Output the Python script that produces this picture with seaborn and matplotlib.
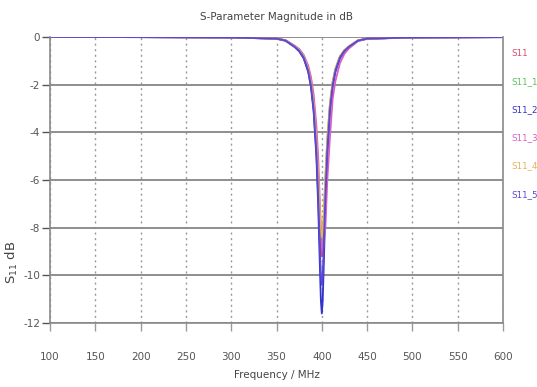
import matplotlib
matplotlib.use("Agg")
import matplotlib.pyplot as plt
import seaborn as sns
import pandas as pd

freq = [100, 200, 300, 350, 360, 370, 375, 380, 385, 388, 391, 394, 396, 398, 399,
        400, 401, 402, 404, 406, 409, 412, 415, 420, 425, 430, 440, 450, 500, 600]

s11   = [0.0, -0.005, -0.02, -0.07, -0.14, -0.40, -0.56, -0.84, -1.37, -1.94, -2.89, -4.52, -6.17, -8.12, -8.90,
         -9.20, -8.90, -8.12, -6.17, -4.52, -2.89, -1.94, -1.37, -0.84, -0.56, -0.40, -0.14, -0.07, -0.02, -0.005]
s11_1 = [0.0, -0.005, -0.02, -0.07, -0.14, -0.39, -0.55, -0.82, -1.34, -1.89, -2.81, -4.36, -5.90, -7.67, -8.33,
         -8.60, -8.33, -7.67, -5.90, -4.36, -2.81, -1.89, -1.34, -0.82, -0.55, -0.39, -0.14, -0.07, -0.02, -0.005]
s11_2 = [0.0, -0.005, -0.02, -0.07, -0.16, -0.42, -0.60, -0.90, -1.47, -2.09, -3.14, -5.01, -7.05, -9.79, -11.07,
         -11.60, -11.07, -9.79, -7.05, -5.01, -3.14, -2.09, -1.47, -0.90, -0.60, -0.42, -0.16, -0.07, -0.02, -0.005]
s11_3 = [0.0, -0.005, -0.02, -0.06, -0.13, -0.36, -0.50, -0.75, -1.20, -1.66, -2.40, -3.70, -5.00, -7.10, -7.97,
         -8.71, -9.00, -8.71, -7.97, -6.08, -4.20, -2.60, -1.85, -1.10, -0.70, -0.48, -0.17, -0.08, -0.02, -0.005]
s11_4 = [0.0, -0.005, -0.02, -0.07, -0.14, -0.39, -0.55, -0.81, -1.33, -1.88, -2.78, -4.30, -5.81, -7.51, -8.15,
         -8.40, -8.15, -7.51, -5.81, -4.30, -2.78, -1.88, -1.33, -0.81, -0.55, -0.39, -0.14, -0.07, -0.02, -0.005]
s11_5 = [0.0, -0.005, -0.02, -0.07, -0.15, -0.41, -0.58, -0.86, -1.42, -2.02, -3.03, -4.79, -6.64, -8.99, -9.99,
         -10.40, -9.99, -8.99, -6.64, -4.79, -3.03, -2.02, -1.42, -0.86, -0.58, -0.41, -0.15, -0.07, -0.02, -0.005]

series_names = ["S11", "S11_1", "S11_2", "S11_3", "S11_4", "S11_5"]
series_values = [s11, s11_1, s11_2, s11_3, s11_4, s11_5]
colors = ["#d94a6e", "#5cc25c", "#3232cc", "#d860c4", "#e2b45a", "#5a48d4"]

x_ticks = [100, 150, 200, 250, 300, 350, 400, 450, 500, 550, 600]
y_ticks = [0, -2, -4, -6, -8, -10, -12]

rows = []
for name, vals in zip(series_names, series_values):
    for f, v in zip(freq, vals):
        rows.append({"Frequency": f, "S11": v, "Series": name})
df = pd.DataFrame(rows)

sns.set_theme(style="white")
plt.rcParams["font.family"] = ["DejaVu Sans"]

fig = plt.figure(figsize=(5.37, 3.87), dpi=100)
ax = fig.add_axes([50/537, 1-323/387, 453/537, 286/387])

sns.lineplot(data=df, x="Frequency", y="S11", hue="Series", palette=colors,
             hue_order=series_names, linewidth=1.3, ax=ax, legend=True)

ax.set_xlim(100, 600)
ax.set_ylim(-12, 0)
ax.set_xticks(x_ticks)
ax.set_yticks(y_ticks)
ax.set_xticklabels([str(t) for t in x_ticks])
ax.set_yticklabels([str(t) for t in y_ticks])

ax.grid(axis="y", color="#8e8e8e", linewidth=1.4, linestyle="-")
ax.grid(axis="x", color="#9a9a9a", linewidth=1.0, linestyle=(0, (1.5, 2.5)))
ax.set_axisbelow(True)

for side in ["left", "bottom", "right"]:
    ax.spines[side].set_color("#8a8a8a")
    ax.spines[side].set_linewidth(1.2)
ax.spines["top"].set_visible(False)

ax.tick_params(axis="x", bottom=True, length=6, width=1, color="#9a9a9a", pad=15, labelsize=7.5, labelcolor="#555555")
ax.tick_params(axis="y", left=True, length=6, width=1, color="#555555", pad=1, labelsize=7.5, labelcolor="#555555")

ax.set_title("S-Parameter Magnitude in dB", fontsize=7.5, color="#444444", pad=12)
ax.set_xlabel("Frequency / MHz", fontsize=7.5, color="#444444", labelpad=6)
ax.set_ylabel(r"$\mathregular{S_{11}}$ dB", fontsize=9.5, color="#444444")
ax.yaxis.set_label_coords(-0.066, 0.213)

leg = ax.legend(loc="upper left", bbox_to_anchor=(1.008, 0.972), frameon=False,
                handlelength=0, handletextpad=0.2, labelcolor="linecolor",
                fontsize=6.3, labelspacing=2.2, borderaxespad=0.0)
for h in leg.legend_handles:
    h.set_visible(False)

fig.savefig("out.png", dpi=100, facecolor="white")
